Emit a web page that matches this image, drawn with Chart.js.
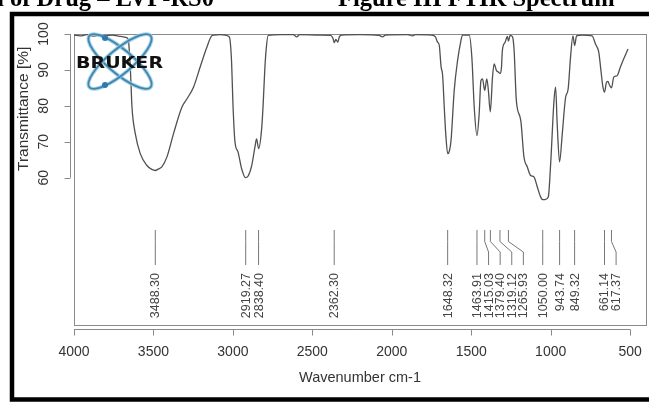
<!DOCTYPE html>
<html>
<head>
<meta charset="utf-8">
<script src="https://cdn.jsdelivr.net/npm/chart.js@4/dist/chart.umd.min.js"></script>
<style>
  html, body { margin: 0; padding: 0; background: #fff; }
</style>
</head>
<body>
<canvas id="irSpectrum" width="649" height="403"></canvas>
<script>
// Spectrum: wavenumber (cm-1) against transmittance (%)
const wavenumber = [
  4000, 3960, 3920, 3880, 3840, 3800, 3760, 3720, 3690, 3665, 3658, 3645, 3635, 3614, 3583,
  3541, 3510, 3489, 3470, 3447, 3415, 3374, 3321, 3290, 3248, 3206, 3164, 3135, 3120, 3080,
  3040, 3025, 3018, 3008, 3000, 2987, 2968, 2945, 2921, 2905, 2882, 2861, 2851, 2838, 2819,
  2810, 2799, 2790, 2778, 2700, 2620, 2598, 2580, 2450, 2385, 2370, 2362, 2352, 2340, 2330,
  2315, 2200, 2080, 2058, 2040, 1900, 1870, 1850, 1750, 1725, 1713, 1701, 1690, 1680, 1669,
  1660, 1648, 1637, 1627, 1607, 1586, 1565, 1555, 1513, 1496, 1481, 1464, 1450, 1439, 1429,
  1415, 1402, 1392, 1380, 1366, 1356, 1341, 1329, 1319, 1310, 1304, 1287, 1272, 1266, 1255,
  1240, 1230, 1216, 1188, 1168, 1147, 1126, 1105, 1084, 1063, 1050, 1035, 1015, 1000, 979,
  969, 959, 944, 927, 906, 890, 875, 860, 849, 837, 800, 739, 718, 697, 686,
  672, 661, 650, 640, 630, 617, 603, 582, 561, 540, 513
]
const transmittance = [
  99.7, 99.5, 99.8, 99.4, 99.7, 99.5, 99.7, 99.4, 99.2, 98.9, 98.4, 90.0, 79.6, 72.2, 66.7,
  63.4, 62.3, 62.0, 62.4, 63.0, 65.8, 72.2, 79.6, 81.9, 85.2, 90.8, 96.3, 99.4, 99.7, 99.8,
  99.6, 99.3, 98.4, 92.0, 81.0, 70.0, 67.2, 62.5, 60.0, 60.4, 63.3, 68.6, 70.8, 68.1, 73.6,
  80.0, 90.3, 96.0, 99.6, 99.8, 99.8, 99.2, 99.8, 99.7, 99.6, 98.8, 97.6, 98.5, 97.7, 99.2,
  99.7, 99.8, 99.6, 99.2, 99.7, 99.8, 99.5, 99.8, 99.7, 99.2, 97.8, 96.8, 91.0, 88.5, 79.0,
  72.0, 66.7, 67.5, 70.4, 84.3, 92.6, 98.1, 99.7, 99.7, 93.5, 79.6, 71.7, 77.8, 87.0, 87.5,
  84.3, 87.5, 84.3, 78.3, 88.0, 91.7, 89.8, 89.4, 89.0, 90.5, 95.4, 97.7, 99.3, 98.0, 99.6,
  99.2, 95.4, 81.5, 75.9, 65.7, 63.0, 60.6, 60.2, 57.4, 54.6, 53.9, 53.9, 54.6, 63.9, 81.5,
  85.2, 75.0, 64.4, 72.2, 82.4, 84.7, 93.5, 99.5, 96.8, 99.5, 99.7, 99.5, 97.2, 94.9, 90.8,
  85.5, 83.8, 86.4, 86.8, 85.8, 85.0, 88.0, 88.4, 90.8, 93.1, 95.8
]
// picked peaks, as printed under the trace
const peakPositions = [
  3488.30, 2919.27, 2838.40, 2362.30, 1648.32, 1463.91, 1415.03, 1379.40,
  1319.12, 1265.93, 1050.00, 943.74, 849.32, 661.14, 617.37
]
const xTicks = [4000, 3500, 3000, 2500, 2000, 1500, 1000, 500]
const yTicks = [60, 70, 80, 90, 100]
const xTitle = 'Wavenumber cm-1'
const yTitle = 'Transmittance [%]'
const headerLeft = 'n of Drug – LVP-RS0'
const headerRight = 'Figure III FTIR Spectrum'

const SANS = '"Liberation Sans", Arial, sans-serif'

// page frame + the half cut caption above it
const drawPage = (ctx) => {
  ctx.save()
  ctx.fillStyle = '#000'
  ctx.font = 'bold 24.5px "Liberation Serif", "Times New Roman", serif'
  ctx.textBaseline = 'alphabetic'
  ctx.textAlign = 'right'
  ctx.fillText(headerLeft, 214, 6)
  ctx.textAlign = 'left'
  ctx.fillText(headerRight, 338, 6)
  ctx.strokeStyle = '#000'
  ctx.lineWidth = 4.5
  ctx.strokeRect(12, 14, 650, 385.5)
  ctx.restore()
}

const drawAxes = (chart) => {
  const {ctx, chartArea: area, scales: {x, y}} = chart
  ctx.save()
  ctx.strokeStyle = '#8a8a8a'
  ctx.lineWidth = 1
  ctx.strokeRect(area.left + 0.5, area.top + 0.5, area.right - area.left, area.bottom - area.top)

  // R style axes: the line only runs between the outer ticks
  const axisY = area.bottom + 4.5
  ctx.beginPath()
  ctx.moveTo(x.getPixelForValue(xTicks[0]), axisY)
  ctx.lineTo(x.getPixelForValue(xTicks[xTicks.length - 1]), axisY)
  xTicks.forEach((v) => {
    const px = Math.round(x.getPixelForValue(v)) + 0.5
    ctx.moveTo(px, axisY)
    ctx.lineTo(px, axisY + 6)
  })
  const axisX = area.left - 3.5
  ctx.moveTo(axisX, y.getPixelForValue(yTicks[0]))
  ctx.lineTo(axisX, y.getPixelForValue(yTicks[yTicks.length - 1]))
  yTicks.forEach((v) => {
    const py = Math.round(y.getPixelForValue(v)) + 0.5
    ctx.moveTo(axisX, py)
    ctx.lineTo(axisX - 6, py)
  })
  ctx.stroke()

  ctx.fillStyle = '#333'
  ctx.textAlign = 'center'
  ctx.textBaseline = 'middle'
  ctx.font = '14px ' + SANS
  xTicks.forEach((v) => ctx.fillText(String(v), x.getPixelForValue(v), 352))
  ctx.font = '14.5px ' + SANS
  ctx.fillText(xTitle, (area.left + area.right) / 2, 378)

  ctx.font = '14px ' + SANS
  yTicks.forEach((v) => {
    ctx.save()
    ctx.translate(44, y.getPixelForValue(v))
    ctx.rotate(-Math.PI / 2)
    ctx.fillText(String(v), 0, 0)
    ctx.restore()
  })
  ctx.save()
  ctx.font = '15.5px ' + SANS
  const mid = (y.getPixelForValue(yTicks[0]) + y.getPixelForValue(yTicks[yTicks.length - 1])) / 2
  ctx.translate(24, mid + 3)
  ctx.rotate(-Math.PI / 2)
  ctx.fillText(yTitle, 0, 0)
  ctx.restore()
  ctx.restore()
}

// peak table under the trace, crowded labels get pushed to the right
const drawPeaks = (chart) => {
  const {ctx, scales: {x}} = chart
  const gap = 11.6
  const top = 230, bend1 = 241.5, bend2 = 252, bottom = 265, textTop = 273
  let last = -Infinity
  ctx.save()
  ctx.strokeStyle = '#777'
  ctx.lineWidth = 1
  ctx.fillStyle = '#444'
  ctx.font = '12.5px ' + SANS
  ctx.textAlign = 'right'
  ctx.textBaseline = 'middle'
  peakPositions.forEach((p) => {
    const px = x.getPixelForValue(p)
    const lx = Math.max(px, last + gap)
    last = lx
    ctx.beginPath()
    ctx.moveTo(px, top)
    ctx.lineTo(px, bend1)
    ctx.lineTo(lx, bend2)
    ctx.lineTo(lx, bottom)
    ctx.stroke()
    ctx.save()
    ctx.translate(lx, textTop)
    ctx.rotate(-Math.PI / 2)
    ctx.fillText(p.toFixed(2), 0, 0.5)
    ctx.restore()
  })
  ctx.restore()
}

const drawLogo = (ctx) => {
  ctx.save()
  ctx.translate(120, 61.5)
  ;[40, -40].forEach((deg) => {
    ctx.beginPath()
    ctx.ellipse(0, 0, 40, 12, deg * Math.PI / 180, 0, 2 * Math.PI)
    ctx.strokeStyle = 'rgba(150, 200, 225, 0.8)'
    ctx.lineWidth = 4
    ctx.stroke()
    ctx.strokeStyle = '#3f86ad'
    ctx.lineWidth = 1.8
    ctx.stroke()
  })
  ctx.fillStyle = '#2f78b0'
  ;[[-15, -23.5], [-15, 23.5]].forEach(([dx, dy]) => {
    ctx.beginPath()
    ctx.arc(dx, dy, 3, 0, 2 * Math.PI)
    ctx.fill()
  })
  ctx.restore()
  ctx.save()
  ctx.translate(119.5, 68)
  ctx.scale(1.27, 1)
  ctx.fillStyle = '#111'
  ctx.font = 'bold 15px "DejaVu Sans", sans-serif'
  ctx.textAlign = 'center'
  ctx.textBaseline = 'alphabetic'
  ctx.fillText('BRUKER', 0, 0)
  ctx.restore()
}

const irDecor = {
  id: 'irDecor',
  beforeDatasetsDraw: (chart) => {
    drawPage(chart.ctx)
    drawAxes(chart)
    drawPeaks(chart)
  },
  afterDatasetsDraw: (chart) => {
    drawLogo(chart.ctx)
  }
}

const spectrum = wavenumber.map((w, i) => ({x: w, y: transmittance[i]}))

let canvas = document.querySelector('canvas#irSpectrum')
var irChart = new Chart(canvas, {
  type: 'line',
  data: {
    datasets: [{
      label: 'Transmittance',
      data: spectrum,
      borderColor: '#505050',
      borderWidth: 1.3,
      pointRadius: 0,
      fill: false,
      cubicInterpolationMode: 'monotone'
    }]
  },
  options: {
    responsive: false,
    animation: false,
    events: [],
    layout: {
      padding: {left: 74, top: 34, right: 3, bottom: 78}
    },
    plugins: {
      legend: {display: false},
      tooltip: {enabled: false}
    },
    scales: {
      x: {type: 'linear', reverse: true, min: 400, max: 4000, display: false},
      y: {type: 'linear', min: 19, max: 100, display: false}
    }
  },
  plugins: [irDecor]
})
</script>
</body>
</html>
